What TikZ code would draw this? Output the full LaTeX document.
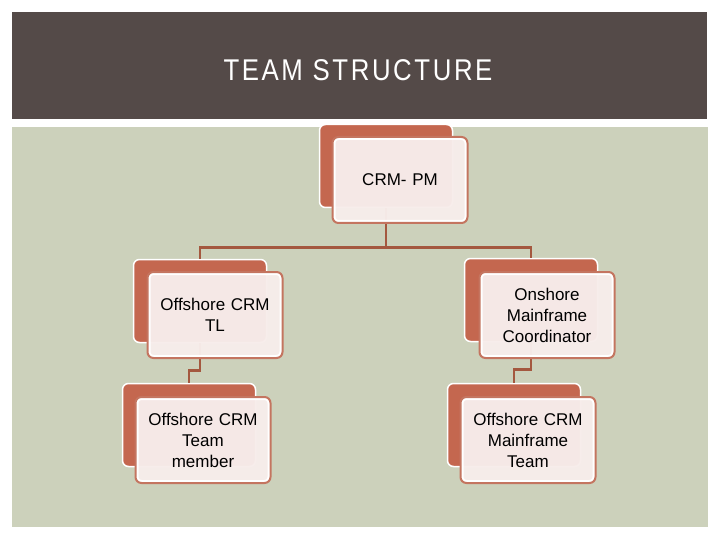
\documentclass[tikz,border=0pt]{standalone}
\usepackage{fontspec}
\setmainfont{Liberation Sans}
\usepackage{tikz}
\usetikzlibrary{positioning,calc}
\definecolor{bandgray}{HTML}{544A48}
\definecolor{sage}{HTML}{CCD1BB}
\definecolor{rust}{HTML}{C4674F}
\definecolor{rustline}{HTML}{C47560}
\definecolor{linkbrown}{HTML}{A4583F}
\definecolor{blush}{HTML}{F7EDEB}
\tikzstyle{backbox}=[fill=rust,draw=white,line width=1.5pt,rounded corners=6pt,minimum width=133pt,minimum height=83pt,inner sep=0pt]
\tikzstyle{frontbox}=[fill=blush,fill opacity=0.97,text opacity=1,draw=rustline,line width=2pt,rounded corners=6pt,minimum width=135pt,minimum height=86pt,inner sep=0pt,text width=125pt,align=center,font=\fontsize{17}{21}\selectfont,
  path picture={\draw[white,line width=6pt,rounded corners=6pt] (path picture bounding box.south west) rectangle (path picture bounding box.north east);}]
\tikzstyle{link}=[draw=linkbrown,line width=2.5pt]

\begin{document}
\begin{tikzpicture}[x=1pt,y=-1pt]
\useasboundingbox (0,0) rectangle (720,540);
\fill[bandgray] (12,12) rectangle (707,119);
\fill[sage] (12,127) rectangle (708,527);
\node[white,xscale=0.86,transform shape,font=\fontsize{30}{32}\selectfont\addfontfeature{LetterSpace=10}] (title) at (358,70) {TEAM STRUCTURE};

\node [backbox] (pmb) at (386,166) {};
\node [backbox] (tlb) at (200,301) {};
\node [backbox] (coordb) at (531,300) {};
\node [backbox] (memberb) at (189,425) {};
\node [backbox] (mfteamb) at (514,425) {};

\draw [link] (pmb.south) -- ++(0,39) -| (tlb.north);
\draw [link] (pmb.south) -- ++(0,39) -| (coordb.north);
\draw [link] (tlb.south) -- ++(0,27) -| (memberb.north);
\draw [link] (coordb.south) -- ++(0,27) -| (mfteamb.north);

\node [frontbox] (pm) at (400,180) {CRM- PM};
\node [frontbox] (tl) at (215,315) {Offshore CRM\\TL};
\node [frontbox] (coord) at (547,315) {Onshore\\Mainframe\\Coordinator};
\node [frontbox] (member) at (203,440) {Offshore CRM\\Team\\member};
\node [frontbox] (mfteam) at (528,440) {Offshore CRM\\Mainframe\\Team};
\end{tikzpicture}
\end{document}
